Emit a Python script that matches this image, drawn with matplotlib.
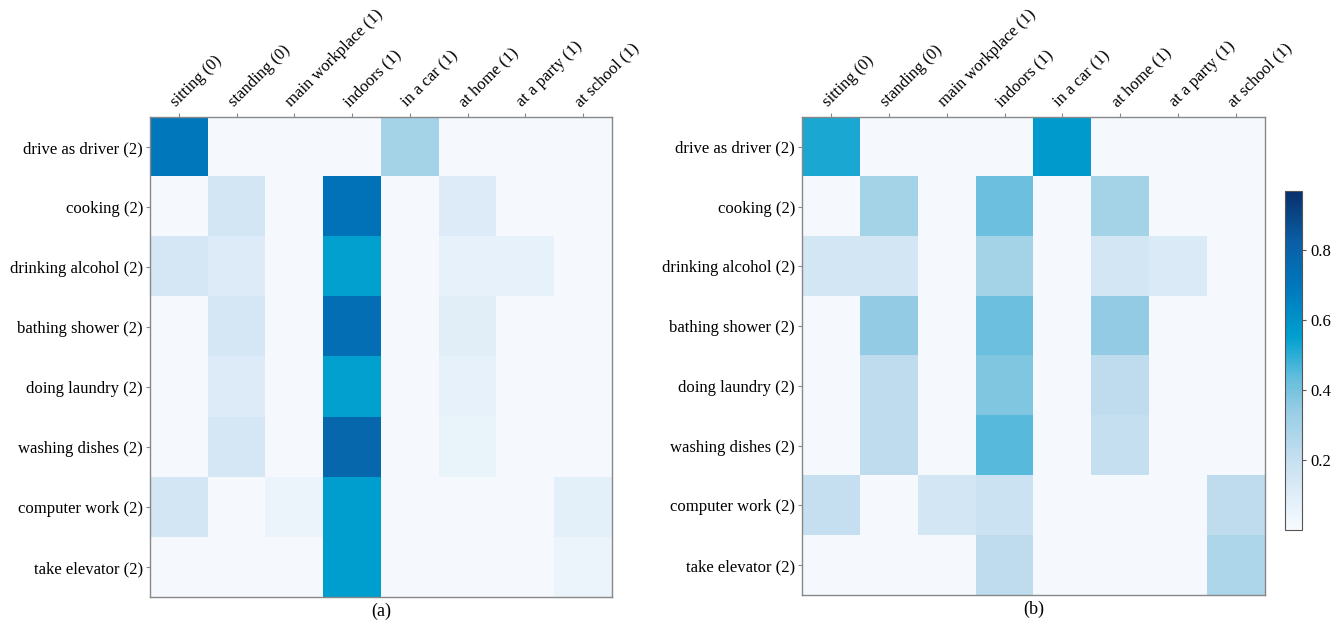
import matplotlib.pyplot as plt
import numpy as np
from matplotlib.colors import LinearSegmentedColormap

plt.rcParams['font.family'] = ['Liberation Serif', 'DejaVu Serif']

activities = ['drive as driver (2)', 'cooking (2)', 'drinking alcohol (2)',
              'bathing shower (2)', 'doing laundry (2)', 'washing dishes (2)',
              'computer work (2)', 'take elevator (2)']
contexts = ['sitting (0)', 'standing (0)', 'main workplace (1)', 'indoors (1)',
            'in a car (1)', 'at home (1)', 'at a party (1)', 'at school (1)']

# (a) attention weights, rows = activities, cols = contexts
weights_a = np.array([
    [0.70, 0.01, 0.01, 0.01, 0.30, 0.01, 0.01, 0.01],
    [0.01, 0.15, 0.01, 0.72, 0.01, 0.11, 0.01, 0.01],
    [0.14, 0.11, 0.01, 0.55, 0.01, 0.07, 0.07, 0.01],
    [0.01, 0.14, 0.01, 0.74, 0.01, 0.09, 0.01, 0.01],
    [0.01, 0.11, 0.01, 0.55, 0.01, 0.07, 0.01, 0.01],
    [0.01, 0.14, 0.01, 0.78, 0.01, 0.06, 0.01, 0.01],
    [0.15, 0.01, 0.05, 0.56, 0.01, 0.01, 0.01, 0.08],
    [0.01, 0.01, 0.01, 0.56, 0.01, 0.01, 0.01, 0.05],
])

# (b)
weights_b = np.array([
    [0.52, 0.01, 0.01, 0.01, 0.57, 0.01, 0.01, 0.01],
    [0.01, 0.30, 0.01, 0.42, 0.01, 0.30, 0.01, 0.01],
    [0.15, 0.15, 0.01, 0.30, 0.01, 0.15, 0.12, 0.01],
    [0.01, 0.35, 0.01, 0.42, 0.01, 0.35, 0.01, 0.01],
    [0.01, 0.22, 0.01, 0.38, 0.01, 0.22, 0.01, 0.01],
    [0.01, 0.22, 0.01, 0.45, 0.01, 0.20, 0.01, 0.01],
    [0.20, 0.01, 0.15, 0.18, 0.01, 0.01, 0.01, 0.22],
    [0.01, 0.01, 0.01, 0.22, 0.01, 0.01, 0.01, 0.27],
])

cmap = LinearSegmentedColormap.from_list('cyanblues', [
    (0.00, '#f7fbff'),
    (0.20, '#c8e0f1'),
    (0.35, '#98cde4'),
    (0.45, '#62bddd'),
    (0.57, '#00a0cf'),
    (0.72, '#0077bc'),
    (0.85, '#0a5fa6'),
    (1.00, '#08306b'),
])
vmin, vmax = 0.0, 0.97

fig = plt.figure(figsize=(13.34, 6.21), dpi=100)
ax_a = fig.add_axes([0.1124, 0.0386, 0.3463, 0.773])
ax_b = fig.add_axes([0.6012, 0.0418, 0.3470, 0.770])
cax = fig.add_axes([0.9633, 0.1465, 0.0125, 0.546])


def draw(ax, w, tag):
    im = ax.imshow(w, cmap=cmap, vmin=vmin, vmax=vmax, aspect='auto',
                   interpolation='nearest')
    ax.xaxis.tick_top()
    ax.set_xticks(np.arange(len(contexts)))
    ax.set_xticklabels(contexts, rotation=45, ha='left', va='bottom',
                       rotation_mode='anchor', fontsize=12)
    ax.set_yticks(np.arange(len(activities)))
    ax.set_yticklabels(activities, fontsize=12)
    ax.tick_params(length=3, width=0.8, color='#888888', pad=2)
    for s in ax.spines.values():
        s.set_color('#888888')
        s.set_linewidth(1.0)
    ax.text(0.5, -0.012, tag, transform=ax.transAxes, ha='center', va='top',
            fontsize=13)
    return im


im = draw(ax_a, weights_a, '(a)')
draw(ax_b, weights_b, '(b)')

cb = fig.colorbar(im, cax=cax)
cb.set_ticks([0.2, 0.4, 0.6, 0.8])
cb.ax.tick_params(labelsize=12, length=3, color='#555555')
cb.outline.set_edgecolor('#555555')

fig.savefig('out.png', dpi=100)
